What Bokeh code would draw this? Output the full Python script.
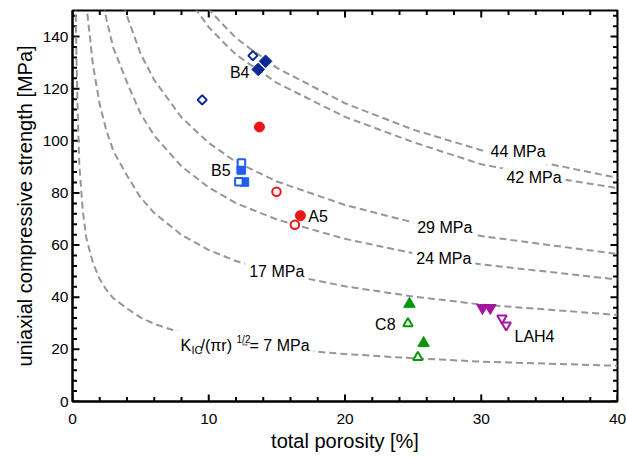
import math
from bokeh.plotting import figure
from bokeh.models import Range1d, SingleIntervalTicker, Label
from bokeh.embed import file_html
from bokeh.resources import INLINE

FONT = "Liberation Sans"

# ---- iso-stress curves  K_IC/(pi r)^1/2 = const ----
por_7 = [0.2, 0.25, 0.3, 0.4, 0.5, 0.75, 1, 1.5, 2, 2.5, 3, 4, 5, 6, 8, 10, 12, 15, 20, 25, 30, 35, 40]
ucs_7 = [161, 143.5, 129.5, 107.1, 91.0, 73.5, 63.0, 53.2, 46.9, 42.7, 39.6, 35.7, 32.2, 29.8, 26.3, 23.9,
         22.2, 20.4, 18.2, 16.6, 15.3, 14.5, 13.7]

por_17 = [1, 1.5, 2, 2.5, 3, 4, 5, 6, 8, 10, 12, 15, 20, 25, 30, 35, 40]
ucs_17 = [153.0, 129.2, 113.9, 103.7, 96.1, 86.7, 78.2, 72.3, 63.9, 58.1, 53.9, 49.5, 44.2, 40.3, 37.2, 35.2, 33.2]

por_24 = [2, 2.5, 3, 4, 5, 6, 8, 10, 12, 15, 20, 25, 30, 35, 40]
ucs_24 = [160.8, 146.4, 135.6, 122.4, 110.4, 102.0, 90.2, 82.1, 76.1, 69.8, 62.4, 56.9, 52.6, 49.7, 46.8]

por_29 = [3, 4, 5, 6, 8, 10, 12, 15, 20, 25, 30, 35, 40]
ucs_29 = [163.9, 147.9, 133.4, 123.3, 109.0, 99.2, 91.9, 84.4, 75.4, 68.7, 63.5, 60.0, 56.6]

por_42 = [8, 9, 10, 11, 12, 13, 14, 15, 17.5, 20, 25, 30, 35, 40]
ucs_42 = [157.9, 150.8, 143.6, 138.2, 133.1, 129.4, 125.9, 122.2, 115.7, 109.2, 99.5, 91.0, 86.0, 81.9]

por_44 = [9, 10, 11, 12, 13, 14, 15, 17.5, 20, 25, 30, 35, 40]
ucs_44 = [158.0, 150.5, 144.8, 139.5, 135.5, 131.9, 128.0, 121.2, 114.4, 104.3, 96.4, 91.1, 85.8]

# ---- measured samples ----
b4_fill_x = [13.63, 14.17]
b4_fill_y = [127.4, 130.5]
b4_open_x = [9.52, 13.24]
b4_open_y = [115.7, 132.7]

a5_fill_x = [13.72, 16.73]
a5_fill_y = [105.3, 71.3]
a5_open_x = [14.97, 16.32]
a5_open_y = [80.5, 67.8]

b5_fill_x = [12.38, 12.62]
b5_fill_y = [88.8, 84.2]
b5_open_x = [12.40, 12.21]
b5_open_y = [91.5, 84.3]

c8_fill_x = [24.73, 25.77]
c8_fill_y = [37.4, 22.4]
c8_open_x = [24.62, 25.35]
c8_open_y = [29.9, 17.0]

lah4_fill_x = [30.09, 30.66]
lah4_fill_y = [35.9, 35.9]
lah4_open_x = [31.52, 31.83]
lah4_open_y = [31.9, 29.3]

# ---- axis ticks ----
X_MIN, X_MAX, Y_MIN, Y_MAX = 0, 40, 0, 150
x_major = [0, 10, 20, 30, 40]
x_minor = [v for v in range(0, 41, 2) if v % 10]
y_major = [0, 20, 40, 60, 80, 100, 120, 140]
y_minor = [v for v in range(0, 151, 4) if v % 20]

NAVY = "#0B2A98"
BLUE = "#1E5EF0"
RED = "#F01414"
GREEN = "#0A960A"
PURPLE = "#A3169F"
GREY = "#969696"

FRAME_W, FRAME_H = 545, 391   # plot-area size in pixels
p = figure(width=626, height=458, output_backend="svg", toolbar_location=None,
           x_range=Range1d(X_MIN, X_MAX), y_range=Range1d(Y_MIN, Y_MAX),
           min_border_left=72, min_border_right=9, min_border_top=10, min_border_bottom=57,
           background_fill_color="white", border_fill_color="white")
p.xgrid.visible = False
p.ygrid.visible = False
p.outline_line_color = "black"
p.outline_line_width = 2
p.outline_line_alpha = 1

for ax in (p.xaxis[0], p.yaxis[0]):
    ax.axis_line_color = "black"
    ax.axis_line_width = 2
    ax.major_tick_in = 0
    ax.major_tick_out = 0
    ax.minor_tick_in = 0
    ax.minor_tick_out = 0
    ax.major_label_text_font = FONT
    ax.major_label_text_font_size = "15.5px"
    ax.major_label_text_color = "black"
    ax.axis_label_text_font = FONT
    ax.axis_label_text_font_size = "20px"
    ax.axis_label_text_font_style = "normal"
    ax.axis_label_text_color = "black"

p.xaxis.ticker = SingleIntervalTicker(interval=10, num_minor_ticks=5)
p.yaxis.ticker = SingleIntervalTicker(interval=20, num_minor_ticks=5)
p.xaxis.axis_label = "total porosity [%]"
p.yaxis.axis_label = "uniaxial compressive strength [MPa]"
p.xaxis.major_label_standoff = 12
p.xaxis.axis_label_standoff = 3
p.yaxis.major_label_standoff = 4
p.yaxis.axis_label_standoff = 4

# inward ticks on all four sides, as short segments from the frame edges
dx = (X_MAX - X_MIN) / FRAME_W   # data units per pixel
dy = (Y_MAX - Y_MIN) / FRAME_H
TICK_COLOR = "black"


def ticks_x(vals, at, sign, length, width):
    p.segment(x0=vals, y0=[at] * len(vals), x1=vals, y1=[at + sign * length * dy] * len(vals),
              line_color=TICK_COLOR, line_width=width)


def ticks_y(vals, at, sign, length, width):
    p.segment(x0=[at] * len(vals), y0=vals, x1=[at + sign * length * dx] * len(vals), y1=vals,
              line_color=TICK_COLOR, line_width=width)


ticks_x(x_major, Y_MIN, 1, 7, 2)
ticks_x(x_minor, Y_MIN, 1, 4.5, 2)
ticks_x(x_major, Y_MAX, -1, 7, 2)
ticks_x(x_minor, Y_MAX, -1, 4.5, 2)
ticks_y(y_major, X_MIN, 1, 7, 2)
ticks_y(y_minor, X_MIN, 1, 4.5, 2)
ticks_y(y_major, X_MAX, -1, 7, 2)
ticks_y(y_minor, X_MAX, -1, 4.5, 2)

# curves
for xs, ys in [(por_7, ucs_7), (por_17, ucs_17), (por_24, ucs_24),
               (por_29, ucs_29), (por_42, ucs_42), (por_44, ucs_44)]:
    p.line(xs, ys, line_color=GREY, line_width=2, line_dash="7 4")

# markers: filled first, open (white fill) on top
rot = math.pi / 4
p.scatter(b4_fill_x, b4_fill_y, marker="square", angle=rot, size=9,
          fill_color=NAVY, line_color=NAVY, line_width=1)
p.scatter(b4_open_x, b4_open_y, marker="square", angle=rot, size=6.5,
          fill_color="white", line_color=NAVY, line_width=2)
p.scatter(b5_fill_x, b5_fill_y, marker="square", size=8.5,
          fill_color=BLUE, line_color=BLUE, line_width=1)
p.scatter(b5_open_x, b5_open_y, marker="square", size=7.5,
          fill_color="white", line_color=BLUE, line_width=2)
p.scatter(a5_fill_x, a5_fill_y, marker="circle", size=10,
          fill_color=RED, line_color=RED, line_width=1)
p.scatter(a5_open_x, a5_open_y, marker="circle", size=8.5,
          fill_color="white", line_color=RED, line_width=2)
p.scatter(c8_fill_x, c8_fill_y, marker="triangle", size=11.5,
          fill_color=GREEN, line_color=GREEN, line_width=1)
p.scatter(c8_open_x, c8_open_y, marker="triangle", size=9.5,
          fill_color="white", line_color=GREEN, line_width=2)
p.scatter(lah4_fill_x, lah4_fill_y, marker="inverted_triangle", size=11.5,
          fill_color=PURPLE, line_color=PURPLE, line_width=1)
p.scatter(lah4_open_x, lah4_open_y, marker="inverted_triangle", size=9.5,
          fill_color="white", line_color=PURPLE, line_width=2)


def lab(x, y, text, align="left", size="16px", bg=None, pad=None, xo=0, yo=0):
    kw = dict(x=x, y=y, text=text, text_font=FONT, text_font_size=size,
              text_align=align, text_baseline="middle", text_color="black",
              x_offset=xo, y_offset=yo)
    if bg:
        kw["background_fill_color"] = bg
        kw["padding"] = pad
        kw["x_offset"] = xo - pad["left"]
    p.add_layout(Label(**kw))


# sample names
lab(12.99, 126.4, "B4", align="right")
lab(11.60, 88.5, "B5", align="right")
lab(17.30, 70.9, "A5")
lab(23.71, 29.7, "C8", align="right")
lab(32.44, 24.9, "LAH4")

# curve labels on white
pad_c = dict(left=4, right=4, top=4, bottom=4)
lab(30.68, 95.8, "44 MPa", bg="white", pad=pad_c)
lab(31.85, 86.0, "42 MPa", bg="white", pad=dict(left=4, right=4, top=1, bottom=1))
lab(25.30, 66.7, "29 MPa", bg="white", pad=pad_c)
lab(25.23, 54.9, "24 MPa", bg="white", pad=pad_c)
lab(12.97, 49.8, "17 MPa", bg="white", pad=pad_c)

# K_IC/(pi r)^1/2 = 7 MPa, composed from pieces
kx, ky = 7.93, 21.5
lab(kx, ky, "K", bg="white", pad=dict(left=8, right=14, top=6, bottom=6))
lab(kx, ky, "/(πr)", bg="white", pad=dict(left=2, right=10, top=5, bottom=5), xo=20)
lab(kx, ky, "= 7 MPa", bg="white", pad=dict(left=2, right=4, top=4, bottom=4), xo=69)
lab(kx, ky, "IC", size="11px", xo=11, yo=-5)
lab(kx, ky, "1/2", size="10px", xo=56, yo=6)

open("out.html", "w").write(file_html(p, INLINE))
